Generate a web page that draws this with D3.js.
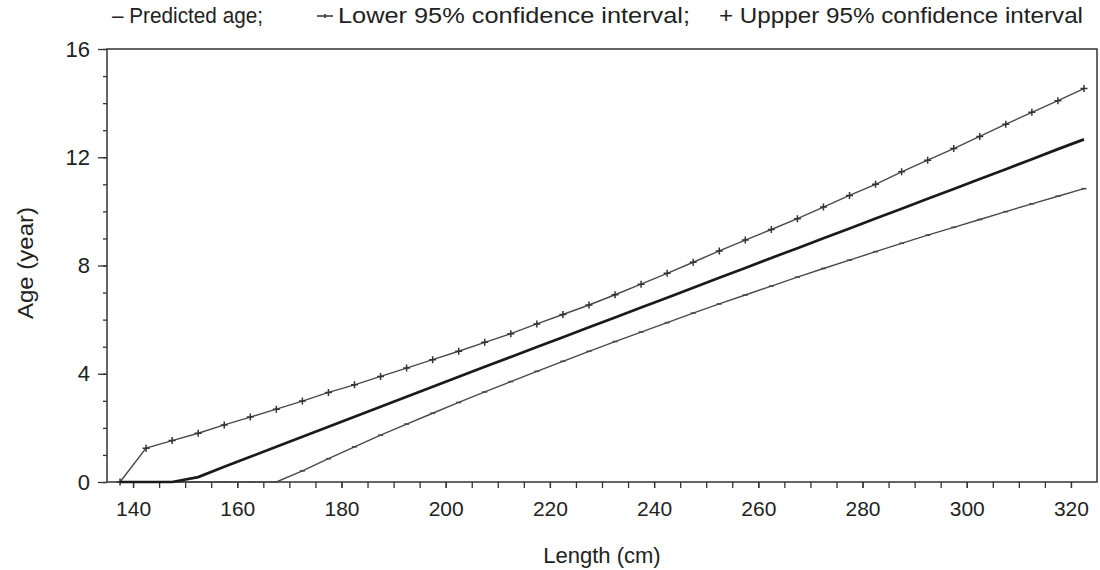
<!DOCTYPE html>
<html>
<head>
<meta charset="utf-8">
<script src="https://cdn.jsdelivr.net/npm/d3@7"></script>
<style>
  body { margin: 0; background: #fff; }
  text { font-family: "Liberation Sans", Arial, Helvetica, sans-serif; fill: #222; }
</style>
</head>
<body>
<div id="chart"></div>
<script>
// lengths (cm) sampled every 5 cm
const lengths = [137.5, 142.5, 147.5, 152.5, 157.5, 162.5, 167.5, 172.5, 177.5, 182.5,
  187.5, 192.5, 197.5, 202.5, 207.5, 212.5, 217.5, 222.5, 227.5, 232.5,
  237.5, 242.5, 247.5, 252.5, 257.5, 262.5, 267.5, 272.5, 277.5, 282.5,
  287.5, 292.5, 297.5, 302.5, 307.5, 312.5, 317.5, 322.5];
const predicted = [0, 0, 0, 0.18, 0.56, 0.93, 1.30, 1.67, 2.04, 2.41,
  2.78, 3.15, 3.52, 3.89, 4.26, 4.62, 4.99, 5.35, 5.72, 6.08,
  6.45, 6.81, 7.18, 7.55, 7.91, 8.28, 8.64, 9.01, 9.37, 9.74,
  10.10, 10.47, 10.83, 11.20, 11.56, 11.93, 12.30, 12.66];
const lower = [0, 0, 0, 0, 0, 0, 0, 0.41, 0.86, 1.30,
  1.73, 2.14, 2.54, 2.94, 3.33, 3.71, 4.09, 4.46, 4.83, 5.19,
  5.54, 5.89, 6.24, 6.58, 6.91, 7.24, 7.57, 7.89, 8.20, 8.51,
  8.82, 9.12, 9.41, 9.70, 9.99, 10.28, 10.56, 10.84];
const upper = [0, 1.25, 1.53, 1.80, 2.11, 2.40, 2.69, 2.99, 3.31, 3.59,
  3.90, 4.21, 4.52, 4.83, 5.16, 5.48, 5.84, 6.19, 6.54, 6.92,
  7.31, 7.71, 8.12, 8.54, 8.94, 9.33, 9.73, 10.16, 10.59, 11.00,
  11.46, 11.89, 12.32, 12.77, 13.22, 13.66, 14.09, 14.54];

const xTicks = [140, 160, 180, 200, 220, 240, 260, 280, 300, 320];
const yTicks = [0, 4, 8, 12, 16];

function draw_chart() {
  const width = 1100, height = 570;
  const x = d3.scaleLinear().domain([135, 325]).range([107, 1097]);
  const y = d3.scaleLinear().domain([0, 16]).range([482, 49]);

  const svg = d3.select("#chart").append("svg")
    .attr("width", width).attr("height", height);

  // frame
  svg.append("rect")
    .attr("x", x(135)).attr("y", y(16))
    .attr("width", x(325) - x(135)).attr("height", y(0) - y(16))
    .attr("fill", "none").attr("stroke", "#333").attr("stroke-width", 1.5);

  // y axis: minor ticks each year, major labelled every 4
  svg.append("g")
    .attr("transform", `translate(${x(135)},0)`)
    .call(d3.axisLeft(y).tickValues(d3.range(0, 17)).tickSize(4).tickFormat(""))
    .call(g => g.select(".domain").remove());
  const yAxis = svg.append("g")
    .attr("transform", `translate(${x(135)},0)`)
    .call(d3.axisLeft(y).tickValues(yTicks).tickSize(9).tickPadding(8))
    .call(g => g.select(".domain").remove());
  yAxis.selectAll("text").style("font-size", "22px");

  // x axis: ticks every 5 cm, labelled every 20
  svg.append("g")
    .attr("transform", `translate(0,${y(0)})`)
    .call(d3.axisBottom(x).tickValues(d3.range(140, 325, 5)).tickSize(6).tickFormat(""))
    .call(g => g.select(".domain").remove());
  const xAxis = svg.append("g")
    .attr("transform", `translate(0,${y(0)})`)
    .call(d3.axisBottom(x).tickValues(xTicks).tickSize(6).tickPadding(13))
    .call(g => g.select(".domain").remove());
  xAxis.selectAll("text").style("font-size", "21px");
  svg.selectAll(".tick line").attr("stroke", "#333").attr("stroke-width", 1.3);

  const pts = arr => lengths.map((l, i) => [l, arr[i]]);
  const line = d3.line().x(d => x(d[0])).y(d => y(d[1]));

  // lower CI
  svg.append("path")
    .datum(pts(lower))
    .attr("fill", "none").attr("stroke", "#4a4a4a").attr("stroke-width", 1.4)
    .attr("d", line);
  svg.append("g").selectAll("line")
    .data(pts(lower))
    .join("line")
    .attr("x1", d => x(d[0]) - 2.5).attr("x2", d => x(d[0]) + 2.5)
    .attr("y1", d => y(d[1])).attr("y2", d => y(d[1]))
    .attr("stroke", "#4a4a4a").attr("stroke-width", 1.6);

  // upper CI with + markers
  svg.append("path")
    .datum(pts(upper))
    .attr("fill", "none").attr("stroke", "#4a4a4a").attr("stroke-width", 1.4)
    .attr("d", line);
  svg.append("g").selectAll("path")
    .data(pts(upper))
    .join("path")
    .attr("d", d => {
      const cx = x(d[0]), cy = y(d[1]);
      return `M${cx - 3.5},${cy}H${cx + 3.5}M${cx},${cy - 3.5}V${cy + 3.5}`;
    })
    .attr("stroke", "#333").attr("stroke-width", 1.5);

  // predicted age
  svg.append("path")
    .datum(pts(predicted))
    .attr("fill", "none").attr("stroke", "#1a1a1a").attr("stroke-width", 2.7)
    .attr("d", line);

  // axis titles
  svg.append("text")
    .attr("x", 602).attr("y", 563)
    .attr("text-anchor", "middle").style("font-size", "22px")
    .text("Length (cm)");
  svg.append("text")
    .attr("transform", "translate(33,263) rotate(-90)")
    .attr("text-anchor", "middle").style("font-size", "22px")
    .attr("textLength", 112).attr("lengthAdjust", "spacingAndGlyphs")
    .text("Age (year)");

  // legend
  const legend = svg.append("g").style("font-size", "22px");
  legend.append("text").attr("x", 112).attr("y", 23)
    .attr("textLength", 151).attr("lengthAdjust", "spacingAndGlyphs")
    .text("\u2013 Predicted age;");
  legend.append("path")
    .attr("d", "M317,16H333M325,14V18")
    .attr("stroke", "#333").attr("stroke-width", 1.5);
  legend.append("text").attr("x", 338).attr("y", 23)
    .attr("textLength", 352).attr("lengthAdjust", "spacingAndGlyphs")
    .text("Lower 95% confidence interval;");
  legend.append("text").attr("x", 719).attr("y", 23)
    .attr("textLength", 364).attr("lengthAdjust", "spacingAndGlyphs")
    .text("+ Uppper 95% confidence interval");
}
draw_chart();
</script>
</body>
</html>
